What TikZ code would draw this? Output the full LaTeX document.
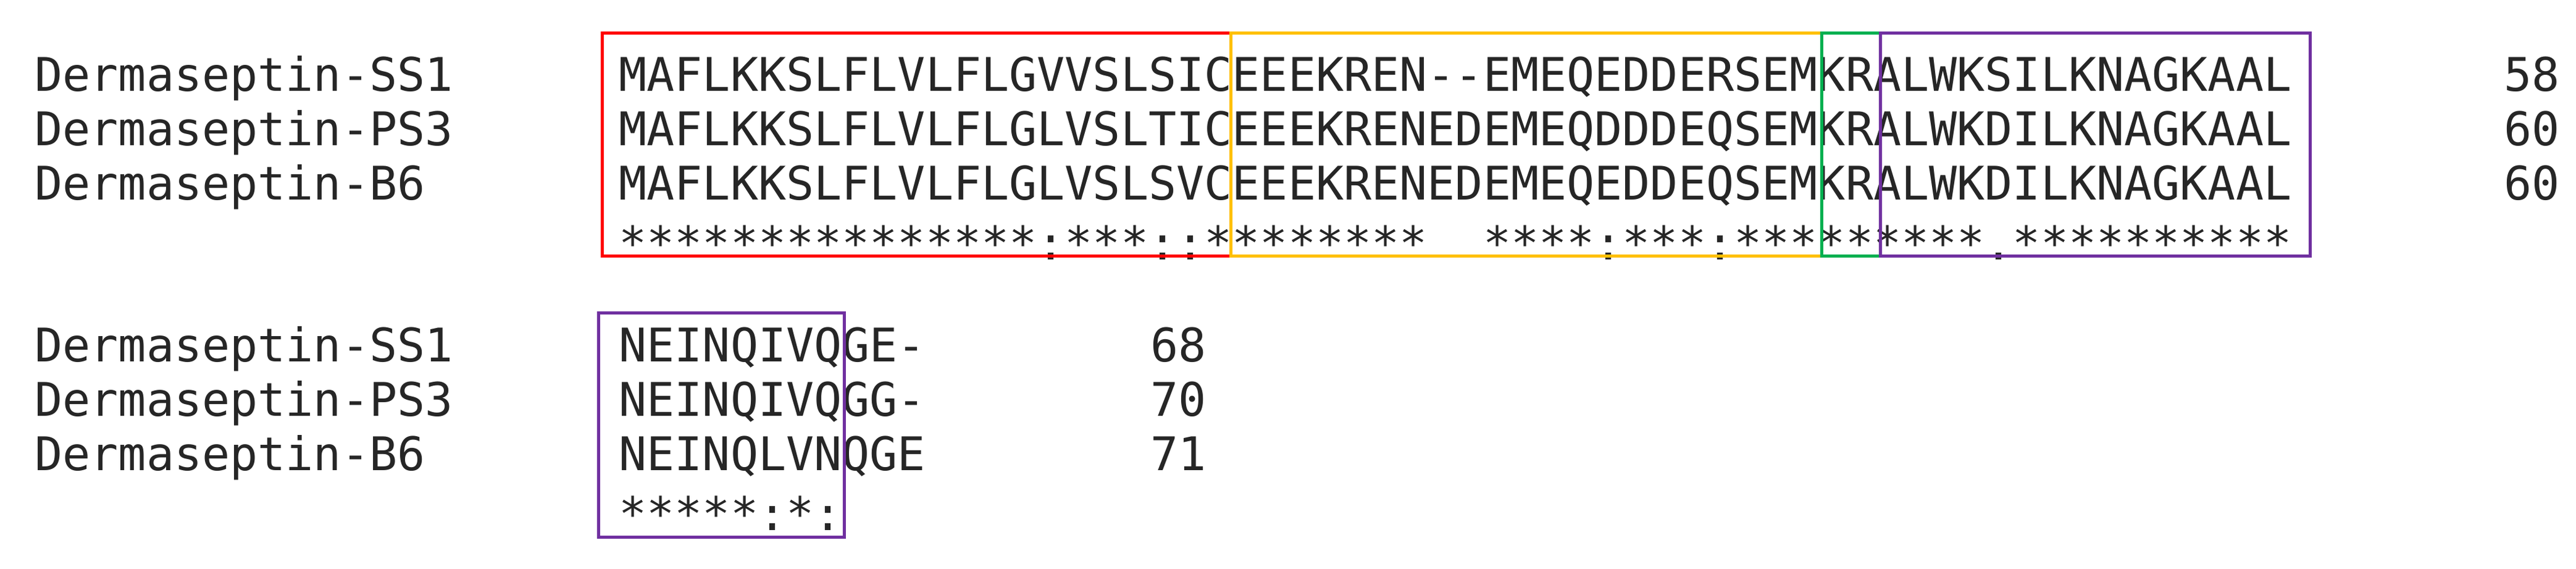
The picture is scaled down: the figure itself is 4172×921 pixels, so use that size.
\documentclass[tikz,border=0pt]{standalone}
\usepackage{fontspec}
\setmonofont{DejaVu Sans Mono}
\definecolor{cred}{HTML}{FF0000}
\definecolor{cyel}{HTML}{FFC000}
\definecolor{cgrn}{HTML}{00B050}
\definecolor{cpur}{HTML}{7030A0}
\begin{document}
\begin{tikzpicture}[x=0.5pt,y=-0.5pt,
  seq/.style={anchor=base west,inner sep=0pt,font=\ttfamily\fontsize{37.5}{40}\selectfont,text=black!85},
  region/.style={line width=2.5pt}]
\useasboundingbox (0,0) rectangle (4172,921);
% top block
\node[seq] (n1) at (56,147) {Dermaseptin-SS1};
\node[seq] (n2) at (56,235) {Dermaseptin-PS3};
\node[seq] (n3) at (56,323) {Dermaseptin-B6};
\node[seq] (s1) at (1002,147) {MAFLKKSLFLVLFLGVVSLSICEEEKREN--EMEQEDDERSEMKRALWKSILKNAGKAAL};
\node[seq] (s2) at (1002,235) {MAFLKKSLFLVLFLGLVSLTICEEEKRENEDEMEQDDDEQSEMKRALWKDILKNAGKAAL};
\node[seq] (s3) at (1002,323) {MAFLKKSLFLVLFLGLVSLSVCEEEKRENEDEMEQEDDEQSEMKRALWKDILKNAGKAAL};
\node[seq] (c1) at (1002,420) {***************:***::********\ \ ****:***:*********.**********};
\node[seq] (l1) at (4055,147) {58};
\node[seq] (l2) at (4055,235) {60};
\node[seq] (l3) at (4055,323) {60};
% bottom block
\node[seq] (m1) at (56,585) {Dermaseptin-SS1};
\node[seq] (m2) at (56,673) {Dermaseptin-PS3};
\node[seq] (m3) at (56,761) {Dermaseptin-B6};
\node[seq] (t1) at (1002,585) {NEINQIVQGE-};
\node[seq] (t2) at (1002,673) {NEINQIVQGG-};
\node[seq] (t3) at (1002,761) {NEINQLVNQGE};
\node[seq] (d1) at (1002,858) {*****:*:};
\node[seq] (k1) at (1863,585) {68};
\node[seq] (k2) at (1863,673) {70};
\node[seq] (k3) at (1863,761) {71};
% region boxes
\draw[region,cred] (975,53) rectangle (1993,414);
\draw[region,cyel] (1993,53) rectangle (2950,414);
\draw[region,cgrn] (2950,53) rectangle (3045,414);
\draw[region,cpur] (3045,53) rectangle (3741,414);
\draw[region,cpur] (969,506) rectangle (1367,869);
\end{tikzpicture}
\end{document}
